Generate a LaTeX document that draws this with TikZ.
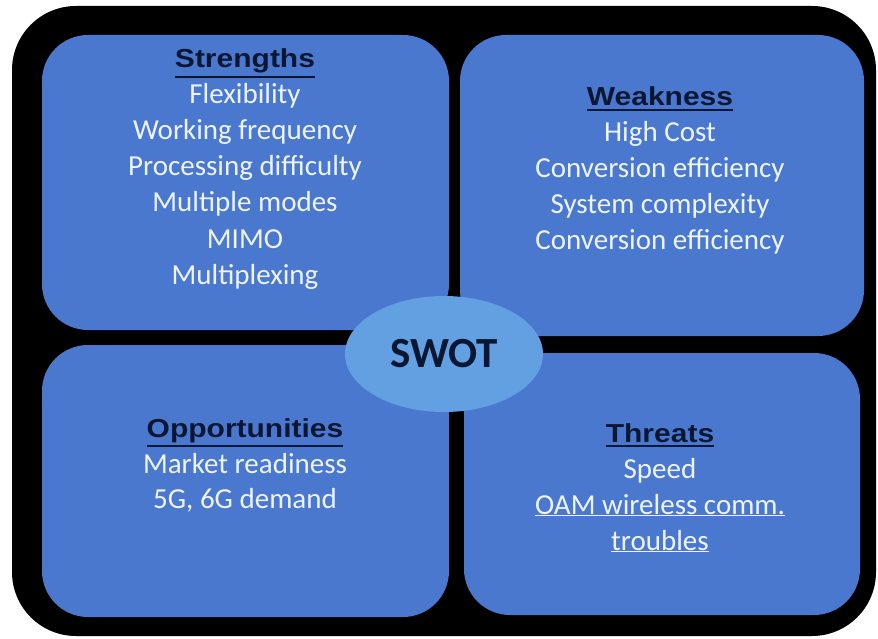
\documentclass[tikz,border=0pt]{standalone}
\usepackage{fontspec}
\setmainfont{Carlito}
\newfontfamily\headfont{Liberation Sans}
\usetikzlibrary{shapes.geometric}
\definecolor{boxblue}{HTML}{4A78CE}
\definecolor{ellblue}{HTML}{62A0E2}
\definecolor{bodytxt}{HTML}{EEF4FF}
\definecolor{headtxt}{HTML}{0B1633}
\tikzset{
  quad/.style={fill=boxblue, rounded corners=46pt},
  bodyline/.style={text=bodytxt, font=\fontsize{29}{34}\selectfont, inner sep=0pt, anchor=base},
  headline/.style={text=headtxt, font=\headfont\bfseries\fontsize{25}{30}\selectfont, inner sep=0pt, anchor=base},
}
\newcommand{\hd}[1]{\scalebox{1.2}[1.04]{\vtop{\hbox{#1}\kern2.2pt\hrule height 2.4pt}}}
\newcommand{\ul}[1]{\underline{#1}}
\begin{document}
\begin{tikzpicture}[x=1pt,y=-1pt]
\useasboundingbox (0,0) rectangle (878,639);
\fill[white] (0,0) rectangle (878,639);
\fill[black, rounded corners=64pt] (12,6) rectangle (876,636);
\fill[quad] (42,35) rectangle (449,330);
\fill[quad] (460,35) rectangle (864,336);
\fill[quad] (42,345) rectangle (449,617);
\fill[quad] (464,353) rectangle (860,615);
% Strengths
\node[headline] (sh) at (245,68) {\hd{Strengths}};
\node[bodyline] (s1) at (245,104) {Flexibility};
\node[bodyline] (s2) at (245,140) {Working frequency};
\node[bodyline] (s3) at (245,176) {Processing difficulty};
\node[bodyline] (s4) at (245,212) {Multiple modes};
\node[bodyline] (s5) at (245,248) {MIMO};
\node[bodyline] (s6) at (245,284) {Multiplexing};
% Weakness
\node[headline] (wh) at (660,106) {\hd{Weakness}};
\node[bodyline] (w1) at (660,142) {High Cost};
\node[bodyline] (w2) at (660,178) {Conversion efficiency};
\node[bodyline] (w3) at (660,214) {System complexity};
\node[bodyline] (w4) at (660,250) {Conversion efficiency};
% Opportunities
\node[headline] (oh) at (245,437) {\hd{Opportunities}};
\node[bodyline] (o1) at (245,473) {Market readiness};
\node[bodyline] (o2) at (245,508) {5G, 6G demand};
% Threats
\node[headline] (th) at (660,442) {\hd{Threats}};
\node[bodyline] (t1) at (660,478) {Speed};
\node[bodyline] (t2) at (660,514) {\ul{OAM wireless comm.}};
\node[bodyline] (t3) at (660,550) {\ul{troubles}};
% Center
\node[ellipse, fill=ellblue, minimum width=198pt, minimum height=116pt, inner sep=0pt,
      text=headtxt, font=\bfseries\fontsize{43}{43}\selectfont] (swot) at (444,354) {SWOT};
\end{tikzpicture}
\end{document}
